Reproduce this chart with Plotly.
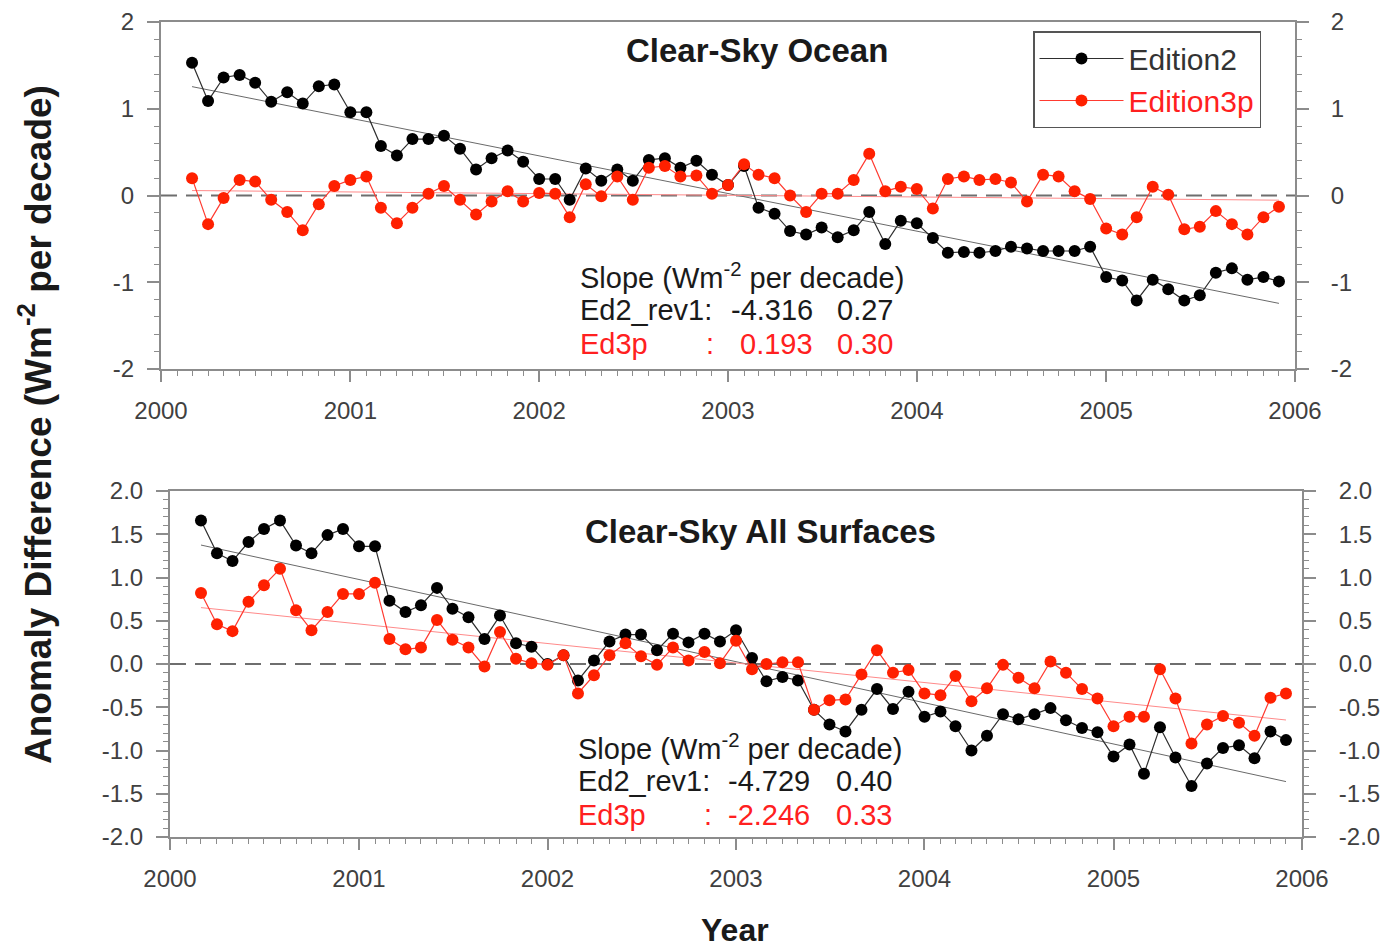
import numpy as np
import pandas as pd
import plotly.graph_objects as go

# ---------------- data ----------------
months = pd.date_range("2000-03-01", "2005-12-01", freq="MS")
dec_years = np.array(months.year + (months.month - 1) / 12.0)

ocean_ed2 = [1.53, 1.09, 1.36, 1.39, 1.30, 1.08, 1.19, 1.06, 1.26, 1.28, 0.96, 0.96,
             0.57, 0.46, 0.65, 0.65, 0.69, 0.54, 0.30, 0.43, 0.52, 0.39, 0.19, 0.19,
             -0.05, 0.31, 0.17, 0.30, 0.17, 0.41, 0.43, 0.32, 0.40, 0.24, 0.12, 0.34,
             -0.14, -0.21, -0.41, -0.45, -0.37, -0.48, -0.40, -0.19, -0.56, -0.29, -0.32, -0.49,
             -0.66, -0.65, -0.66, -0.64, -0.59, -0.61, -0.64, -0.64, -0.64, -0.59, -0.94, -0.98,
             -1.21, -0.97, -1.08, -1.21, -1.15, -0.89, -0.84, -0.97, -0.94, -0.99]
ocean_ed3p = [0.20, -0.33, -0.03, 0.18, 0.16, -0.05, -0.19, -0.40, -0.10, 0.11, 0.18, 0.22,
              -0.14, -0.32, -0.14, 0.02, 0.11, -0.05, -0.22, -0.07, 0.05, -0.07, 0.03, 0.02,
              -0.25, 0.13, -0.01, 0.22, -0.05, 0.32, 0.34, 0.22, 0.23, 0.02, 0.12, 0.36,
              0.24, 0.20, 0.00, -0.19, 0.02, 0.02, 0.18, 0.48, 0.05, 0.10, 0.075, -0.15,
              0.19, 0.22, 0.18, 0.19, 0.15, -0.07, 0.24, 0.22, 0.05, -0.04, -0.38, -0.45,
              -0.25, 0.10, 0.01, -0.39, -0.36, -0.18, -0.33, -0.45, -0.25, -0.13]
all_ed2 = [1.66, 1.28, 1.19, 1.41, 1.56, 1.66, 1.37, 1.28, 1.49, 1.56, 1.36, 1.36,
           0.73, 0.60, 0.68, 0.88, 0.64, 0.54, 0.29, 0.56, 0.24, 0.20, 0.00, 0.10,
           -0.19, 0.04, 0.26, 0.34, 0.34, 0.16, 0.35, 0.25, 0.35, 0.26, 0.39, 0.07,
           -0.20, -0.15, -0.19, -0.53, -0.70, -0.78, -0.53, -0.29, -0.52, -0.32, -0.61, -0.55,
           -0.72, -1.00, -0.83, -0.58, -0.64, -0.58, -0.51, -0.65, -0.74, -0.79, -1.07, -0.93,
           -1.27, -0.73, -1.08, -1.41, -1.15, -0.97, -0.94, -1.09, -0.78, -0.88]
all_ed3p = [0.82, 0.46, 0.38, 0.72, 0.91, 1.10, 0.62, 0.39, 0.60, 0.81, 0.81, 0.94,
            0.29, 0.17, 0.19, 0.51, 0.28, 0.19, -0.03, 0.37, 0.06, 0.01, -0.01, 0.10,
            -0.34, -0.13, 0.10, 0.24, 0.09, -0.01, 0.19, 0.04, 0.14, 0.01, 0.27, -0.06,
            0.00, 0.02, 0.02, -0.53, -0.42, -0.41, -0.12, 0.16, -0.10, -0.07, -0.34, -0.36,
            -0.14, -0.43, -0.28, -0.01, -0.16, -0.28, 0.03, -0.10, -0.29, -0.40, -0.72, -0.61,
            -0.61, -0.06, -0.40, -0.92, -0.70, -0.60, -0.68, -0.83, -0.39, -0.34]

series_names = ["Edition2", "Edition3p"]
panel_titles = ["Clear-Sky Ocean", "Clear-Sky All Surfaces"]
top_tickvals = [-2, -1, 0, 1, 2]
top_ticktext = ["-2", "-1", "0", "1", "2"]
bot_tickvals = [-2.0, -1.5, -1.0, -0.5, 0.0, 0.5, 1.0, 1.5, 2.0]
bot_ticktext = ["-2.0", "-1.5", "-1.0", "-0.5", "0.0", "0.5", "1.0", "1.5", "2.0"]
slope_top = [["Ed2_rev1:", "-4.316", "0.27"], ["Ed3p", "0.193", "0.30"]]
slope_bot = [["Ed2_rev1:", "-4.729", "0.40"], ["Ed3p", "-2.246", "0.33"]]

# ---------------- styling ----------------
W, H = 1380, 947
FONT = "Liberation Sans, Arial, Helvetica, sans-serif"
BLACK_M = "#000000"
BLACK_L = "#2e2e2e"
BLACK_T = "#6a6a6a"
RED_M = "#ff2000"
RED_L = "#ff3a30"
RED_T = "#ff8a8a"
RED_TXT = "#ff2020"
AX = "#8c8c8c"
TICKTXT = "#404040"


def px(x):
    return x / W


def py(y):
    return 1 - y / H


fig = go.Figure()


def trend(vals):
    c = np.polyfit(dec_years, np.array(vals), 1)
    return np.polyval(c, [dec_years[0], dec_years[-1]])


def add_panel(ed2, ed3p, xa, ya, yr, legend):
    t2 = trend(ed2)
    t3 = trend(ed3p)
    fig.add_trace(go.Scatter(x=[months[0], months[-1]], y=t2, mode="lines",
                             line=dict(color=BLACK_T, width=1), showlegend=False,
                             xaxis=xa, yaxis=ya, hoverinfo="skip"))
    fig.add_trace(go.Scatter(x=[months[0], months[-1]], y=t3, mode="lines",
                             line=dict(color=RED_T, width=1), showlegend=False,
                             xaxis=xa, yaxis=ya, hoverinfo="skip"))
    fig.add_trace(go.Scatter(x=months, y=ed2, mode="lines+markers",
                             name=series_names[0],
                             line=dict(color=BLACK_L, width=1.2),
                             marker=dict(color=BLACK_M, size=12),
                             showlegend=legend, xaxis=xa, yaxis=ya))
    fig.add_trace(go.Scatter(x=months, y=ed3p, mode="lines+markers",
                             name="<span style='color:%s'>%s</span>" % (RED_TXT, series_names[1]),
                             line=dict(color=RED_L, width=1.2),
                             marker=dict(color=RED_M, size=12),
                             showlegend=legend, xaxis=xa, yaxis=ya))
    # invisible trace so the right-hand axis is drawn
    fig.add_trace(go.Scatter(x=[months[0]], y=[None], mode="lines", showlegend=False,
                             xaxis=xa, yaxis=yr, hoverinfo="skip"))


add_panel(ocean_ed2, ocean_ed3p, "x", "y", "y3", True)
add_panel(all_ed2, all_ed3p, "x2", "y2", "y4", False)

xcommon = dict(type="date", range=["2000-01-01", "2006-01-01"], dtick="M12",
               tick0="2000-01-01", tickformat="%Y", showline=True, linecolor=AX,
               linewidth=2, mirror=True, ticks="outside", ticklen=11, tickwidth=1.5,
               tickcolor=AX, showgrid=False, zeroline=False, automargin=False,
               tickfont=dict(family=FONT, size=24, color=TICKTXT),
               ticklabelstandoff=8,
               minor=dict(dtick="M1", ticks="outside", ticklen=5, tickwidth=1,
                          tickcolor=AX, showgrid=False))


def ycommon(vals, text, minor_dtick, standoff):
    return dict(range=[-2, 2], tickvals=vals, ticktext=text, showline=True,
                linecolor=AX, linewidth=2, ticks="outside", ticklen=12, tickwidth=1.5,
                tickcolor=AX, showgrid=False, zeroline=False, automargin=False,
                tickfont=dict(family=FONT, size=24, color=TICKTXT),
                ticklabelstandoff=standoff,
                minor=dict(dtick=minor_dtick, ticks="outside", ticklen=5, tickwidth=1,
                           tickcolor=AX, showgrid=False))


top_x = [px(161), px(1295)]
top_y = [py(369), py(22)]
bot_x = [px(170), px(1302)]
bot_y = [py(837), py(491)]

fig.update_layout(
    width=W, height=H, margin=dict(l=0, r=0, t=0, b=0, autoexpand=False),
    paper_bgcolor="white", plot_bgcolor="white",
    font=dict(family=FONT, color="#333333"),
    xaxis=dict(xcommon, domain=top_x, anchor="y"),
    yaxis=dict(ycommon(top_tickvals, top_ticktext, 0.2, 8), domain=top_y, anchor="x"),
    yaxis3=dict(ycommon(top_tickvals, top_ticktext, 0.2, 17), overlaying="y",
                side="right", anchor="x"),
    xaxis2=dict(xcommon, domain=bot_x, anchor="y2"),
    yaxis2=dict(ycommon(bot_tickvals, bot_ticktext, 0.1, 8), domain=bot_y, anchor="x2"),
    yaxis4=dict(ycommon(bot_tickvals, bot_ticktext, 0.1, 18), overlaying="y2",
                side="right", anchor="x2"),
    legend=dict(x=px(1033), y=py(31), xanchor="left", yanchor="top",
                bordercolor="#555555", borderwidth=1.5, bgcolor="white",
                font=dict(family=FONT, size=30, color="#333333"),
                itemwidth=84, tracegroupgap=0),
    showlegend=True,
)

# dashed zero lines
for xr, yr in [("x domain", "y"), ("x2 domain", "y2")]:
    fig.add_shape(type="line", xref=xr, x0=0, x1=1, yref=yr, y0=0, y1=0,
                  line=dict(color="#6e6e6e", width=2, dash="16px,9px"), layer="below")

ann = []
# panel titles
ann.append(dict(text="<b>%s</b>" % panel_titles[0], x=px(757), y=py(50)))
ann.append(dict(text="<b>%s</b>" % panel_titles[1], x=px(760), y=py(531)))
for a in ann:
    a.update(xref="paper", yref="paper", showarrow=False, xanchor="center", yanchor="middle",
             font=dict(family=FONT, size=33, color="#1a1a1a"))


def slope_block(y0, rows, xl, xc, xv, xe):
    out = []
    out.append(dict(text="Slope (Wm<sup>-2</sup> per decade)", x=px(xl), y=py(y0),
                    xanchor="left", color="#1a1a1a"))
    colors = ["#1a1a1a", RED_TXT]
    for i, r in enumerate(rows):
        yy = py(y0 + 34 * (i + 1))
        out.append(dict(text=r[0], x=px(xl), y=yy, xanchor="left", color=colors[i]))
        if i == 1:
            out.append(dict(text=":", x=px(xc), y=yy, xanchor="center", color=colors[i]))
        out.append(dict(text=r[1], x=px(xv), y=yy, xanchor="right", color=colors[i]))
        out.append(dict(text=r[2], x=px(xe), y=yy, xanchor="right", color=colors[i]))
    res = []
    for o in out:
        c = o.pop("color")
        o.update(xref="paper", yref="paper", showarrow=False, yanchor="middle",
                 font=dict(family=FONT, size=29, color=c))
        res.append(o)
    return res


ann += slope_block(276, slope_top, 578, 710, 815, 895)
ann += slope_block(747, slope_bot, 576, 708, 812, 894)

# axis titles
ann.append(dict(text="<b>Anomaly Difference (Wm<sup>-2</sup> per decade)</b>",
                x=px(35), y=py(425), xref="paper", yref="paper", showarrow=False,
                textangle=-90, xanchor="center", yanchor="middle",
                font=dict(family=FONT, size=37, color="#1a1a1a")))
ann.append(dict(text="<b>Year</b>", x=px(735), y=py(930), xref="paper", yref="paper",
                showarrow=False, xanchor="center", yanchor="middle",
                font=dict(family=FONT, size=32, color="#1a1a1a")))

fig.update_layout(annotations=ann)

fig.write_html("out.html")
